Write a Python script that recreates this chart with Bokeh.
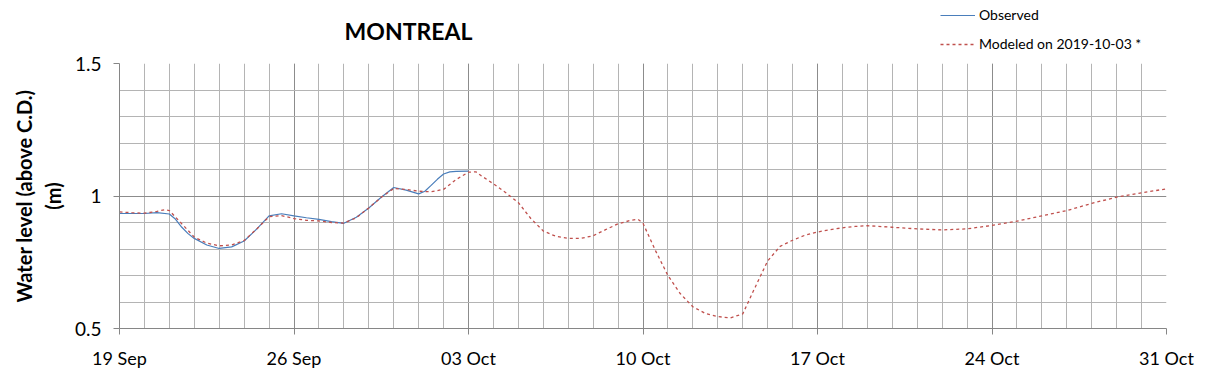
import pandas as pd
from bokeh.plotting import figure
from bokeh.layouts import column
from bokeh.models import FixedTicker, Legend, LegendItem, Label
from bokeh.embed import file_html
from bokeh.resources import INLINE

start = pd.Timestamp("2019-09-19")

obs_days = [0.0, 0.5, 1.0, 1.5, 2.0, 2.25, 2.5, 2.75, 3.0, 3.5, 4.0, 4.5, 5.0, 5.5, 6.0,
            6.5, 7.0, 7.5, 8.0, 8.5, 9.0, 9.5, 10.0, 10.5, 11.0, 11.5, 12.0, 12.25, 12.5,
            12.75, 13.0, 13.25, 13.5, 14.0]
obs_vals = [0.934, 0.934, 0.934, 0.937, 0.932, 0.912, 0.882, 0.858, 0.840, 0.815, 0.802,
            0.808, 0.830, 0.875, 0.925, 0.933, 0.925, 0.918, 0.912, 0.903, 0.897, 0.920,
            0.955, 0.995, 1.032, 1.022, 1.008, 1.018, 1.040, 1.063, 1.083, 1.091, 1.093,
            1.094]

mod_days = [0.0, 0.5, 1.0, 1.5, 1.8, 2.0, 2.5, 3.0, 3.5, 4.0, 4.5, 5.0, 5.5, 6.0, 6.5,
            7.0, 7.5, 8.0, 8.5, 9.0, 9.5, 10.0, 10.5, 11.0, 11.5, 12.0, 12.5, 13.0, 13.5,
            14.0, 14.3, 14.5, 15.0, 15.5, 16.0, 16.5, 17.0, 17.5, 18.0, 18.5, 19.0, 19.5,
            20.0, 20.5, 20.8, 21.0, 21.5, 22.0, 22.5, 23.0, 23.5, 24.0, 24.5, 25.0, 25.5,
            26.0, 26.5, 27.0, 27.5, 28.0, 28.5, 29.0, 29.5, 30.0, 31.0, 32.0, 33.0, 34.0,
            35.0, 36.0, 37.0, 38.0, 39.0, 40.0, 41.0, 42.0]
mod_vals = [0.940, 0.937, 0.935, 0.942, 0.948, 0.945, 0.895, 0.845, 0.822, 0.812, 0.815,
            0.832, 0.875, 0.922, 0.926, 0.915, 0.908, 0.906, 0.900, 0.898, 0.918, 0.955,
            0.995, 1.028, 1.025, 1.018, 1.016, 1.025, 1.062, 1.090, 1.091, 1.077, 1.046,
            1.012, 0.975, 0.915, 0.868, 0.848, 0.840, 0.840, 0.850, 0.873, 0.895, 0.908,
            0.912, 0.897, 0.794, 0.700, 0.631, 0.582, 0.557, 0.545, 0.540, 0.555, 0.656,
            0.755, 0.810, 0.833, 0.852, 0.864, 0.873, 0.880, 0.885, 0.888, 0.882, 0.876,
            0.872, 0.876, 0.889, 0.905, 0.925, 0.945, 0.972, 0.996, 1.012, 1.027]

week_days = [0, 7, 14, 21, 28, 35, 42]
y_major = [0.5, 1.0, 1.5]
y_minor = [0.6, 0.7, 0.8, 0.9, 1.1, 1.2, 1.3, 1.4]

title_text = "MONTREAL"
obs_label = "Observed"
mod_label = "Modeled on 2019-10-03 *"

font = "Lato"
obs_color = "#4a7ebb"
mod_color = "#c0504d"

FL, FR = 119, 43  # frame borders (px)

def to_dt(days):
    return [start + pd.Timedelta(days=d) for d in days]

def to_ms(days):
    return [(start + pd.Timedelta(days=d)).value / 1e6 for d in days]

# ---- header (title + legend); x data units = page pixels ----
H = 52
head = figure(width=1209, height=H, x_range=(FL, 1209 - FR), y_range=(0, H),
              output_backend="svg", toolbar_location=None,
              x_axis_location=None, y_axis_location=None,
              min_border_left=FL, min_border_right=FR,
              min_border_top=0, min_border_bottom=0)
head.outline_line_color = None
head.xgrid.visible = False
head.ygrid.visible = False
head.add_layout(Label(x=408, y=H - 30, text=title_text, text_align="center",
                      text_baseline="middle", text_font=font, text_font_size="23px",
                      text_font_style="bold", text_color="#000000"))
nan = float("nan")
h_obs = head.line(x=[nan, nan], y=[nan, nan], line_color=obs_color, line_width=1.2)
h_mod = head.line(x=[nan, nan], y=[nan, nan], line_color=mod_color, line_width=1.3,
                  line_dash="3 3")
legend = Legend(items=[LegendItem(label=obs_label, renderers=[h_obs]),
                       LegendItem(label=mod_label, renderers=[h_mod])],
                location=(940 - FL, 0), orientation="vertical",
                padding=0, margin=0, spacing=12, glyph_width=35, glyph_height=14,
                label_height=14, label_standoff=4,
                label_text_font=font, label_text_font_size="14px",
                label_text_color="#000000",
                background_fill_alpha=0, border_line_color=None)
head.add_layout(legend, "center")

# ---- main chart ----
p = figure(width=1209, height=378 - H, x_axis_type="datetime",
           x_range=(to_dt([0])[0], to_dt([42])[0]), y_range=(0.5, 1.5),
           output_backend="svg", toolbar_location=None,
           min_border_left=FL, min_border_right=FR, min_border_top=63 - H,
           min_border_bottom=50)
p.outline_line_color = None

p.xaxis.ticker = FixedTicker(ticks=to_ms(week_days), minor_ticks=to_ms(list(range(43))))
p.xaxis.major_label_overrides = {t: (start + pd.Timedelta(days=d)).strftime("%d %b")
                                 for t, d in zip(to_ms(week_days), week_days)}
p.yaxis.ticker = FixedTicker(ticks=y_major, minor_ticks=y_minor)
p.yaxis.major_label_overrides = {0.5: "0.5", 1.0: "1", 1.5: "1.5"}

for ax in (p.xaxis, p.yaxis):
    ax.axis_line_color = "#868686"
    ax.major_tick_line_color = "#868686"
    ax.major_tick_in = 0
    ax.major_tick_out = 6
    ax.minor_tick_line_color = None
    ax.major_label_text_font = font
    ax.major_label_text_color = "#000000"
p.xaxis.major_label_text_font_size = "18px"
p.yaxis.major_label_text_font_size = "19px"
p.xaxis.major_label_standoff = 12
p.yaxis.major_label_standoff = 12

p.yaxis.axis_label = "Water level (above C.D.)\n(m)"
p.yaxis.axis_label_text_font = font
p.yaxis.axis_label_text_font_size = "20px"
p.yaxis.axis_label_text_font_style = "bold"
p.yaxis.axis_label_text_color = "#000000"
p.yaxis.axis_label_standoff = 7

for g in (p.xgrid, p.ygrid):
    g.grid_line_color = "#8c8c8c"
    g.grid_line_width = 1
    g.minor_grid_line_color = "#b4b4b4"
    g.minor_grid_line_width = 1

p.line(to_dt(obs_days), obs_vals, line_color=obs_color, line_width=1.2)
p.line(to_dt(mod_days), mod_vals, line_color=mod_color, line_width=1.3, line_dash="3 3")

layout = column(head, p, spacing=0)
open("out.html", "w").write(file_html(layout, INLINE))
